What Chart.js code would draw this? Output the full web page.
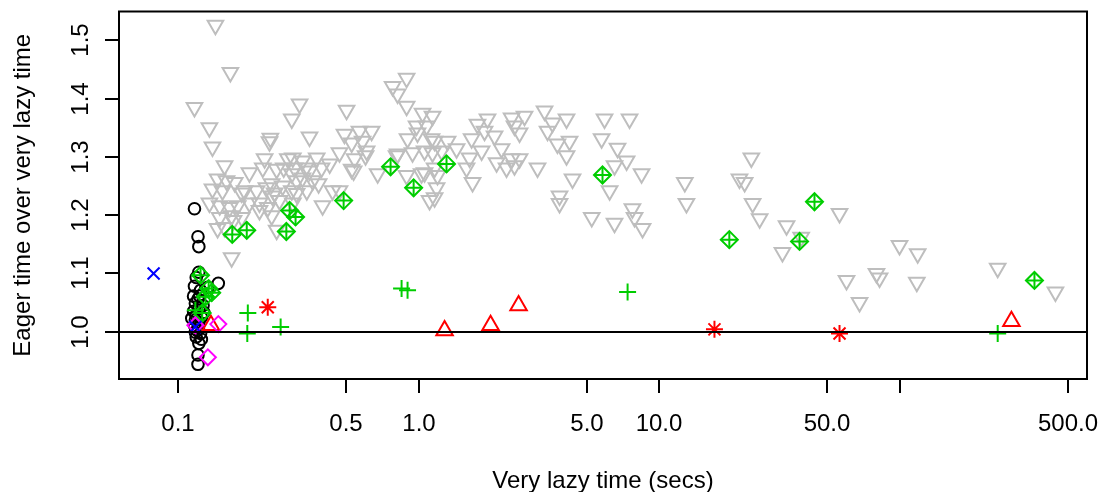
<!DOCTYPE html>
<html>
<head>
<meta charset="utf-8">
<script src="https://cdn.jsdelivr.net/npm/chart.js@4.4.1/dist/chart.umd.min.js"></script>
<style>
  body { margin: 0; background: #fff; }
  canvas { display: block; }
</style>
</head>
<body>
<canvas id="chart" width="1099" height="492"></canvas>
<script>
// axis setup (log x, linear y)
const xTicks = [0.1, 0.5, 1, 5, 10, 50, 100, 500];
const xTickLabels = ['0.1', '0.5', '1.0', '5.0', '10.0', '50.0', '', '500.0'];
const yTicks = [1.0, 1.1, 1.2, 1.3, 1.4, 1.5];
const yTickLabels = ['1.0', '1.1', '1.2', '1.3', '1.4', '1.5'];
const xTitle = 'Very lazy time (secs)';
const yTitle = 'Eager time over very lazy time';
const refLine = 1.0;

// gray down triangles
const grayTri = [
  [0.143,1.526],[0.165,1.445],[0.117,1.385],[0.135,1.350],[0.139,1.317],
  [0.320,1.391],[0.297,1.365],[0.502,1.380],[0.242,1.332],[0.352,1.334],
  [0.240,1.326],[0.156,1.285],[0.198,1.273],[0.229,1.297],[0.225,1.281],
  [0.257,1.279],[0.286,1.297],[0.305,1.281],[0.146,1.262],[0.159,1.259],
  [0.172,1.256],[0.139,1.245],[0.153,1.242],[0.189,1.242],[0.212,1.242],
  [0.233,1.247],[0.247,1.233],[0.272,1.250],[0.297,1.242],[0.311,1.259],
  [0.135,1.221],[0.149,1.216],[0.164,1.213],[0.177,1.216],[0.198,1.221],
  [0.218,1.221],[0.236,1.213],[0.264,1.225],[0.149,1.196],[0.167,1.199],
  [0.184,1.196],[0.146,1.177],[0.156,1.179],[0.170,1.191],[0.218,1.208],
  [0.245,1.199],[0.257,1.174],[0.300,1.221],[0.167,1.127],
  [0.892,1.435],[0.780,1.421],[0.818,1.408],[0.892,1.387],
  [0.492,1.339],[0.568,1.344],[0.638,1.344],[0.527,1.324],[0.585,1.327],[0.608,1.310],
  [0.469,1.307],[0.542,1.297],[0.527,1.279],[0.427,1.288],[0.377,1.298],[0.329,1.293],
  [0.300,1.298],[0.352,1.276],[0.395,1.281],[0.329,1.264],[0.363,1.259],[0.439,1.242],
  [0.343,1.242],[0.311,1.237],[0.399,1.216],[0.469,1.242],[0.676,1.271],[0.810,1.302],
  [0.900,1.331],[0.990,1.341],[1.039,1.375],[1.143,1.370],[1.080,1.353],[0.944,1.307],
  [1.132,1.331],[1.143,1.307],[1.029,1.271],[0.892,1.268],[1.166,1.281],[1.188,1.247],
  [1.111,1.225],[0.981,1.353],[0.818,1.305],[0.537,1.276],[0.602,1.302],[0.339,1.281],
  [0.275,1.281],[0.297,1.271],[0.384,1.254],[0.245,1.254],[0.252,1.238],[0.184,1.238],
  [1.166,1.327],[1.320,1.327],[1.059,1.310],[1.247,1.310],[1.439,1.314],[1.059,1.273],
  [1.199,1.268],[1.166,1.230],[1.662,1.331],[1.758,1.356],[1.935,1.365],[1.881,1.344],
  [2.070,1.336],[1.829,1.310],[1.630,1.298],[1.583,1.281],[1.677,1.256],[2.214,1.314],
  [2.111,1.290],[2.322,1.281],[2.437,1.297],[2.630,1.297],[2.506,1.285],[2.437,1.367],
  [2.758,1.370],[2.506,1.353],[2.630,1.341],[3.341,1.379],[3.604,1.358],[4.124,1.365],
  [3.439,1.344],[3.780,1.322],[4.245,1.327],[4.124,1.302],[3.124,1.281],[4.368,1.262],
  [3.857,1.233],[3.857,1.220],[5.934,1.365],[5.770,1.331],
  [7.54,1.365],[6.72,1.315],[7.33,1.293],[6.53,1.285],[8.46,1.271],[6.23,1.242],
  [5.25,1.196],[6.53,1.186],[7.75,1.211],[7.91,1.196],[8.54,1.177],[12.8,1.256],[13.0,1.220],
  [24.2,1.298],[21.6,1.262],[22.7,1.256],[24.5,1.220],[26.2,1.194],[33.9,1.182],[39.0,1.162],
  [32.6,1.136],[56.3,1.203],[100,1.148],[119,1.134],[60.2,1.088],[80.2,1.100],[82.6,1.092],
  [68.2,1.050],[118,1.085],[256,1.109],[445,1.068]
];

// black circles
const blackCirc = [
  [0.117,1.211],[0.121,1.163],[0.122,1.146],[0.119,1.093],[0.122,1.102],
  [0.117,1.078],[0.124,1.071],[0.116,1.061],[0.121,1.056],[0.118,1.049],
  [0.127,1.045],[0.122,1.040],[0.116,1.035],[0.119,1.028],[0.125,1.025],
  [0.122,1.016],[0.117,1.011],[0.121,1.006],[0.124,0.997],[0.119,0.991],
  [0.122,0.980],[0.121,0.960],[0.121,0.944],[0.147,1.083],[0.133,1.076],
  [0.118,1.020],[0.128,1.033],[0.114,1.023],[0.123,1.061],[0.120,1.002],
  [0.125,0.987],[0.118,0.999]
];

// green diamonds with plus
const greenDiam = [
  [0.168,1.167],[0.193,1.174],[0.282,1.172],[0.291,1.208],[0.308,1.197],
  [0.488,1.225],[0.765,1.283],[0.954,1.247],[1.307,1.288],[5.82,1.269],
  [19.6,1.158],[38.4,1.155],[44.3,1.223],[364,1.088],
  [0.124,1.097],[0.134,1.074],[0.138,1.067],[0.130,1.060],[0.126,1.032]
];

// green plus
const greenPlus = [
  [0.195,1.032],[0.194,0.997],[0.267,1.008],[0.850,1.074],[0.900,1.071],
  [7.40,1.068],[256,0.997],[0.118,1.037]
];

// red up triangles
const redTri = [[1.283,1.002],[1.993,1.011],[2.606,1.045],[292,1.018],[0.137,1.011]];

// red asterisks
const redStar = [[0.236,1.042],[17.0,1.004],[56.3,0.997]];

// magenta diamonds
const magDiam = [[0.118,1.011],[0.147,1.013],[0.133,0.956]];

// blue crosses
const blueX = [[0.0791,1.100],[0.118,1.008]];

const pts = arr => arr.map(p => ({ x: p[0], y: p[1] }));

function series(data, style, color, radius, order, extra) {
  return Object.assign({
    data: pts(data),
    pointStyle: style,
    pointRadius: radius,
    pointBorderColor: color,
    pointBackgroundColor: 'rgba(0,0,0,0)',
    pointBorderWidth: 2,
    order: order
  }, extra || {});
}

// R-like box, ticks and labels drawn off the chart's scales
const rAxes = {
  id: 'rAxes',
  afterDatasetsDraw(chart) {
    const ctx = chart.ctx, xs = chart.scales.x, ys = chart.scales.y, a = chart.chartArea;
    ctx.save();
    ctx.strokeStyle = '#000';
    ctx.fillStyle = '#000';
    ctx.lineWidth = 2;
    const y1 = Math.round(ys.getPixelForValue(refLine));
    ctx.beginPath(); ctx.moveTo(a.left, y1); ctx.lineTo(a.right, y1); ctx.stroke();
    ctx.strokeRect(a.left, a.top, a.right - a.left, a.bottom - a.top);

    ctx.font = '24px "Liberation Sans", Arial, sans-serif';
    ctx.textAlign = 'center';
    ctx.textBaseline = 'middle';
    xTicks.forEach((v, i) => {
      const px = Math.round(xs.getPixelForValue(v));
      ctx.beginPath(); ctx.moveTo(px, a.bottom); ctx.lineTo(px, a.bottom + 14); ctx.stroke();
      if (xTickLabels[i]) ctx.fillText(xTickLabels[i], px, a.bottom + 45);
    });
    yTicks.forEach((v, i) => {
      const py = Math.round(ys.getPixelForValue(v));
      ctx.beginPath(); ctx.moveTo(a.left - 14, py); ctx.lineTo(a.left, py); ctx.stroke();
      ctx.save();
      ctx.translate(a.left - 38, py);
      ctx.rotate(-Math.PI / 2);
      ctx.fillText(yTickLabels[i], 0, 0);
      ctx.restore();
    });
    ctx.fillText(xTitle, (a.left + a.right) / 2, a.bottom + 102);
    ctx.save();
    ctx.translate(23, (a.top + a.bottom) / 2);
    ctx.rotate(-Math.PI / 2);
    ctx.fillText(yTitle, 0, 0);
    ctx.restore();
    ctx.restore();
  }
};

new Chart(document.getElementById('chart'), {
  type: 'scatter',
  data: {
    datasets: [
      series(grayTri, 'triangle', '#BEBEBE', 9, 10, { pointRotation: 180 }),
      series(blackCirc, 'circle', '#000000', 5.8, 9),
      series(greenPlus, 'cross', '#00CD00', 8.5, 7),
      series(redTri, 'triangle', '#FF0000', 9.5, 6),
      series(redStar, 'star', '#FF0000', 8.5, 5),
      series(greenDiam, 'rectRot', '#00CD00', 8.5, 4),
      series(greenDiam, 'cross', '#00CD00', 8.5, 3),
      series(magDiam, 'rectRot', '#FF00FF', 8, 2),
      series(blueX, 'crossRot', '#0000FF', 8.5, 1)
    ]
  },
  options: {
    responsive: false,
    devicePixelRatio: 1,
    animation: false,
    layout: { padding: { left: 119, top: 10, right: 12, bottom: 113 } },
    plugins: { legend: { display: false }, tooltip: { enabled: false } },
    scales: {
      x: { type: 'logarithmic', min: 0.0568, max: 602, display: false },
      y: { type: 'linear', min: 0.9188, max: 1.5496, display: false }
    }
  },
  plugins: [rAxes]
});
</script>
</body>
</html>
